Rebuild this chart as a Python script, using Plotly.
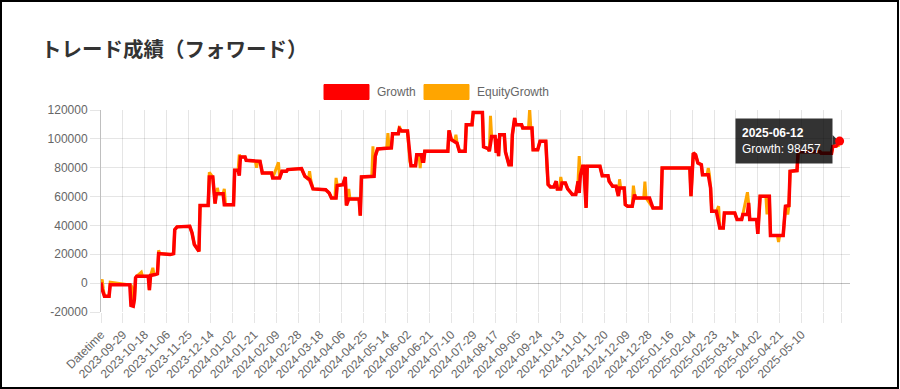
import plotly.graph_objects as go

# ---------------- data ----------------
growth_dates = [
    "2023-09-10", "2023-09-11", "2023-09-13", "2023-09-17", "2023-09-18", "2023-10-05", "2023-10-06",
    "2023-10-08", "2023-10-09", "2023-10-10", "2023-10-11", "2023-10-21", "2023-10-22", "2023-10-23",
    "2023-10-27", "2023-10-29", "2023-10-30", "2023-11-09", "2023-11-12", "2023-11-13", "2023-11-15",
    "2023-11-26", "2023-11-28", "2023-11-30", "2023-12-04", "2023-12-05", "2023-12-12", "2023-12-13",
    "2023-12-16", "2023-12-18", "2023-12-19", "2023-12-25", "2023-12-26", "2024-01-03", "2024-01-04",
    "2024-01-07", "2024-01-08", "2024-01-09", "2024-01-13", "2024-01-14", "2024-01-26", "2024-01-28",
    "2024-02-05", "2024-02-06", "2024-02-12", "2024-02-14", "2024-02-18", "2024-02-19", "2024-03-02",
    "2024-03-05", "2024-03-09", "2024-03-12", "2024-03-23", "2024-03-26", "2024-03-28", "2024-04-01",
    "2024-04-02", "2024-04-07", "2024-04-09", "2024-04-10", "2024-04-12", "2024-04-21", "2024-04-22",
    "2024-04-23", "2024-05-04", "2024-05-05", "2024-05-07", "2024-05-19", "2024-05-20", "2024-05-25",
    "2024-05-26", "2024-05-28", "2024-06-02", "2024-06-04", "2024-06-05", "2024-06-09", "2024-06-10",
    "2024-06-14", "2024-06-15", "2024-06-16", "2024-06-17", "2024-07-07", "2024-07-08", "2024-07-10",
    "2024-07-13", "2024-07-15", "2024-07-17", "2024-07-22", "2024-07-23", "2024-07-28", "2024-07-29",
    "2024-08-06", "2024-08-07", "2024-08-11", "2024-08-12", "2024-08-14", "2024-08-17", "2024-08-18",
    "2024-08-19", "2024-08-20", "2024-08-21", "2024-08-25", "2024-08-26", "2024-08-29", "2024-08-31",
    "2024-09-01", "2024-09-03", "2024-09-04", "2024-09-09", "2024-09-10", "2024-09-18", "2024-09-19",
    "2024-09-23", "2024-09-25", "2024-09-30", "2024-10-01", "2024-10-02", "2024-10-04", "2024-10-07",
    "2024-10-09", "2024-10-10", "2024-10-13", "2024-10-14", "2024-10-17", "2024-10-19", "2024-10-22",
    "2024-10-23", "2024-10-26", "2024-10-28", "2024-10-29", "2024-10-30", "2024-11-01", "2024-11-02",
    "2024-11-04", "2024-11-05", "2024-11-16", "2024-11-18", "2024-11-23", "2024-11-24", "2024-11-27",
    "2024-11-30", "2024-12-02", "2024-12-03", "2024-12-07", "2024-12-08", "2024-12-10", "2024-12-14",
    "2024-12-16", "2024-12-17", "2024-12-29", "2025-01-01", "2025-01-08", "2025-01-09", "2025-02-02",
    "2025-02-03", "2025-02-05", "2025-02-07", "2025-02-09", "2025-02-12", "2025-02-13", "2025-02-18",
    "2025-02-20", "2025-02-21", "2025-02-25", "2025-02-28", "2025-03-03", "2025-03-04", "2025-03-13",
    "2025-03-15", "2025-03-19", "2025-03-20", "2025-03-24", "2025-03-25", "2025-03-26", "2025-04-01",
    "2025-04-02", "2025-04-04", "2025-04-12", "2025-04-13", "2025-04-24", "2025-04-26", "2025-04-29",
    "2025-04-30", "2025-05-06", "2025-05-07", "2025-05-26", "2025-05-27", "2025-06-05", "2025-06-06",
    "2025-06-09", "2025-06-12",
]
growth_values = [
    500, -4400, -9000, -9000, -1200, -1200, -15500,
    -16000, -11000, 3700, 4800, 4800, -4800, 5300,
    6000, 6500, 20500, 19800, 20500, 37000, 39000,
    39400, 34800, 26800, 22000, 53800, 53800, 73600,
    73600, 55100, 62000, 62000, 54400, 54400, 78200,
    78200, 74500, 87400, 87400, 85100, 84400, 76400,
    76400, 72900, 72900, 77500, 77500, 78700, 79400,
    74000, 71700, 65300, 64800, 62500, 59000, 59000,
    67600, 68300, 73600, 53800, 58400, 58400, 46800,
    73600, 74000, 87900, 93000, 93700, 103600, 103600,
    107000, 105500, 105500, 84400, 81400, 81400, 89000,
    89000, 84400, 84400, 91400, 91400, 105900, 99400,
    98300, 97000, 91400, 91400, 109800, 109800, 118300,
    118300, 94500, 93300, 91500, 101700, 101700, 90200,
    100000, 88000, 102900, 102900, 91000, 82100, 82100,
    102900, 114400, 109800, 109800, 107500, 107500, 92500,
    92500, 98300, 98300, 81000, 68300, 66700, 66700,
    70600, 65300, 65300, 69400, 69400, 65300, 62500,
    61400, 61400, 70600, 62500, 74800, 81000, 81000,
    52100, 81000, 81000, 74500, 74500, 70600, 67100,
    67100, 60400, 66000, 66000, 54400, 53300, 53300,
    61400, 59000, 59000, 52100, 52100, 79800, 79800,
    60200, 90200, 89000, 83300, 82100, 75200, 75200,
    66000, 49800, 49800, 38300, 38300, 48700, 48700,
    44100, 44100, 47600, 47600, 55600, 44100, 44100,
    34200, 60200, 60200, 33000, 33000, 53300, 53800,
    77500, 78000, 91000, 91000, 90000, 90000, 94700,
    95000, 98457,
]

equity_dates = [
    "2023-09-10", "2023-09-11", "2023-09-12", "2023-09-13", "2023-09-17", "2023-09-18", "2023-10-05",
    "2023-10-06", "2023-10-07", "2023-10-08", "2023-10-09", "2023-10-10", "2023-10-11", "2023-10-15",
    "2023-10-16", "2023-10-21", "2023-10-22", "2023-10-23", "2023-10-25", "2023-10-26", "2023-10-27",
    "2023-10-29", "2023-10-30", "2023-10-31", "2023-11-09", "2023-11-12", "2023-11-13", "2023-11-15",
    "2023-11-26", "2023-11-28", "2023-11-30", "2023-12-04", "2023-12-05", "2023-12-12", "2023-12-13",
    "2023-12-16", "2023-12-18", "2023-12-19", "2023-12-20", "2023-12-21", "2023-12-25", "2023-12-26",
    "2023-12-27", "2024-01-03", "2024-01-04", "2024-01-07", "2024-01-08", "2024-01-09", "2024-01-13",
    "2024-01-14", "2024-01-22", "2024-01-23", "2024-01-24", "2024-01-26", "2024-01-28", "2024-02-05",
    "2024-02-06", "2024-02-11", "2024-02-12", "2024-02-14", "2024-02-18", "2024-02-19", "2024-03-02",
    "2024-03-05", "2024-03-08", "2024-03-09", "2024-03-10", "2024-03-12", "2024-03-23", "2024-03-26",
    "2024-03-28", "2024-03-31", "2024-04-01", "2024-04-02", "2024-04-07", "2024-04-09", "2024-04-10",
    "2024-04-12", "2024-04-13", "2024-04-21", "2024-04-22", "2024-04-23", "2024-05-02", "2024-05-03",
    "2024-05-04", "2024-05-05", "2024-05-07", "2024-05-15", "2024-05-16", "2024-05-17", "2024-05-19",
    "2024-05-20", "2024-05-25", "2024-05-26", "2024-05-27", "2024-06-02", "2024-06-04", "2024-06-05",
    "2024-06-09", "2024-06-10", "2024-06-12", "2024-06-13", "2024-06-14", "2024-06-15", "2024-06-16",
    "2024-06-17", "2024-07-07", "2024-07-08", "2024-07-10", "2024-07-13", "2024-07-14", "2024-07-15",
    "2024-07-17", "2024-07-22", "2024-07-23", "2024-07-28", "2024-07-29", "2024-08-06", "2024-08-07",
    "2024-08-11", "2024-08-12", "2024-08-13", "2024-08-14", "2024-08-17", "2024-08-18", "2024-08-19",
    "2024-08-20", "2024-08-21", "2024-08-25", "2024-08-26", "2024-08-27", "2024-08-29", "2024-08-31",
    "2024-09-01", "2024-09-03", "2024-09-04", "2024-09-09", "2024-09-10", "2024-09-15", "2024-09-16",
    "2024-09-17", "2024-09-18", "2024-09-19", "2024-09-23", "2024-09-25", "2024-09-30", "2024-10-01",
    "2024-10-02", "2024-10-04", "2024-10-07", "2024-10-09", "2024-10-10", "2024-10-12", "2024-10-13",
    "2024-10-14", "2024-10-17", "2024-10-19", "2024-10-22", "2024-10-23", "2024-10-26", "2024-10-28",
    "2024-10-29", "2024-10-30", "2024-11-01", "2024-11-02", "2024-11-04", "2024-11-05", "2024-11-16",
    "2024-11-18", "2024-11-23", "2024-11-24", "2024-11-27", "2024-11-30", "2024-12-02", "2024-12-03",
    "2024-12-04", "2024-12-07", "2024-12-08", "2024-12-10", "2024-12-14", "2024-12-15", "2024-12-16",
    "2024-12-17", "2024-12-24", "2024-12-25", "2024-12-26", "2024-12-29", "2025-01-01", "2025-01-08",
    "2025-01-09", "2025-02-02", "2025-02-03", "2025-02-05", "2025-02-07", "2025-02-09", "2025-02-12",
    "2025-02-13", "2025-02-17", "2025-02-18", "2025-02-19", "2025-02-20", "2025-02-21", "2025-02-25",
    "2025-02-27", "2025-02-28", "2025-03-03", "2025-03-04", "2025-03-13", "2025-03-15", "2025-03-19",
    "2025-03-20", "2025-03-24", "2025-03-25", "2025-03-26", "2025-04-01", "2025-04-02", "2025-04-04",
    "2025-04-09", "2025-04-10", "2025-04-11", "2025-04-12", "2025-04-13", "2025-04-19", "2025-04-20",
    "2025-04-21", "2025-04-24", "2025-04-26", "2025-04-28", "2025-04-29", "2025-04-30", "2025-05-06",
    "2025-05-07", "2025-05-26", "2025-05-27", "2025-06-05", "2025-06-06", "2025-06-09", "2025-06-12",
]
equity_values = [
    500, 2500, -4000, -9000, -9000, 700, -1200,
    -1500, -3000, -16000, -11000, 3700, 4800, 7600,
    4800, 4800, -4800, 5300, 10600, 6000, 6000,
    6500, 22800, 20500, 19800, 20500, 37000, 39000,
    39400, 34800, 26800, 22000, 53800, 53800, 76800,
    73600, 55100, 62000, 66000, 62000, 62000, 65300,
    54400, 54400, 78200, 78200, 89000, 87400, 87400,
    85100, 84400, 80000, 84400, 84400, 76400, 76400,
    72900, 83700, 72900, 77500, 77500, 78700, 79400,
    74000, 71700, 77500, 71700, 65300, 64800, 62500,
    59000, 59000, 72900, 67600, 68300, 73600, 53800,
    65300, 58400, 58400, 46800, 73600, 74000, 94800,
    74000, 87900, 93000, 93700, 104000, 93700, 93700,
    103600, 103600, 108900, 105500, 105500, 84400, 81400,
    81400, 89000, 89000, 79800, 89000, 84400, 84400,
    91400, 91400, 105900, 99400, 98300, 102900, 97000,
    91400, 91400, 109800, 109800, 118300, 118300, 94500,
    93300, 91500, 116000, 101700, 101700, 90200, 100000,
    88000, 102900, 102900, 91000, 88000, 82100, 82100,
    102900, 114400, 109800, 109800, 107500, 107500, 120700,
    107500, 107500, 92500, 92500, 98300, 98300, 81000,
    68300, 66700, 66700, 70600, 65300, 65300, 73600,
    69400, 69400, 65300, 62500, 61400, 61400, 70600,
    88100, 74800, 81000, 81000, 52100, 81000, 81000,
    74500, 74500, 70600, 67100, 67100, 60400, 72000,
    66000, 66000, 54400, 53300, 53300, 67600, 61400,
    59000, 59000, 70400, 59000, 55500, 52100, 52100,
    79800, 79800, 60200, 90200, 89000, 83300, 82100,
    75200, 75200, 79800, 75200, 66000, 49800, 49800,
    53300, 38300, 38300, 48700, 48700, 44100, 44100,
    47600, 63000, 55600, 44100, 44100, 34200, 60200,
    60200, 47600, 60200, 60200, 33000, 33000, 28600,
    33000, 33000, 53300, 47600, 53800, 77500, 78000,
    91000, 91000, 90000, 90000, 94700, 95000, 95500,
]

tick_dates = [
    "2023-09-10", "2023-09-29", "2023-10-18", "2023-11-06", "2023-11-25", "2023-12-14",
    "2024-01-02", "2024-01-21", "2024-02-09", "2024-02-28", "2024-03-18", "2024-04-06",
    "2024-04-25", "2024-05-14", "2024-06-02", "2024-06-21", "2024-07-10", "2024-07-29",
    "2024-08-17", "2024-09-05", "2024-09-24", "2024-10-13", "2024-11-01", "2024-11-20",
    "2024-12-09", "2024-12-28", "2025-01-16", "2025-02-04", "2025-02-23", "2025-03-14",
    "2025-04-02", "2025-04-21", "2025-05-10", "2025-05-29", "2025-06-14",
]
tick_labels = [
    "Datetime", "2023-09-29", "2023-10-18", "2023-11-06", "2023-11-25", "2023-12-14",
    "2024-01-02", "2024-01-21", "2024-02-09", "2024-02-28", "2024-03-18", "2024-04-06",
    "2024-04-25", "2024-05-14", "2024-06-02", "2024-06-21", "2024-07-10", "2024-07-29",
    "2024-08-17", "2024-09-05", "2024-09-24", "2024-10-13", "2024-11-01", "2024-11-20",
    "2024-12-09", "2024-12-28", "2025-01-16", "2025-02-04", "2025-02-23", "2025-03-14",
    "2025-04-02", "2025-04-21", "2025-05-10", "", "",
]
y_ticks = [-20000, 0, 20000, 40000, 60000, 80000, 100000, 120000]
y_labels = [str(v) for v in y_ticks]

title_text = "トレード成績（フォワード）"
series_names = ["Growth", "EquityGrowth"]
series_colors = ["#FF0000", "#FFA500"]

# ---------------- layout helpers ----------------
FW, FH = 900, 389
L, R, T, B = 101, 50, 110, 77
PW, PH = FW - L - R, FH - T - B


def px(x):
    return (x - L) / PW


def py(y):
    return (FH - B - y) / PH


GRID = "rgba(0,0,0,0.1)"
AXIS = "rgba(0,0,0,0.25)"
TXT = "#666666"
FONT = "Liberation Sans, Arial, sans-serif"

fig = go.Figure()
fig.add_trace(go.Scatter(
    x=equity_dates, y=equity_values, mode="lines", name=series_names[1],
    line=dict(color=series_colors[1], width=3), hoverinfo="skip", showlegend=False))
fig.add_trace(go.Scatter(
    x=growth_dates, y=growth_values, mode="lines", name=series_names[0],
    line=dict(color=series_colors[0], width=3.5), hoverinfo="skip", showlegend=False))
fig.add_trace(go.Scatter(
    x=[growth_dates[-1]], y=[growth_values[-1]], mode="markers",
    marker=dict(color=series_colors[0], size=9), hoverinfo="skip", showlegend=False))

shapes = []
annotations = []

# manual legend (Chart.js-style boxes)
legend_x = [(324, 375), (424, 475)]
for (bx, tx), name, col in zip(legend_x, series_names, series_colors):
    shapes.append(dict(type="rect", xref="paper", yref="paper",
                       x0=px(bx), x1=px(bx + 45), y0=py(99.5), y1=py(84.5),
                       fillcolor=col, line=dict(color=col, width=1), layer="above"))
    annotations.append(dict(xref="paper", yref="paper", x=px(tx), y=py(92),
                            xanchor="left", yanchor="middle", showarrow=False,
                            text=name, font=dict(family=FONT, size=12, color=TXT)))

# title
annotations.append(dict(xref="paper", yref="paper", x=px(39), y=py(48),
                        xanchor="left", yanchor="middle", showarrow=False,
                        text="<b>" + title_text + "</b>",
                        font=dict(family="Noto Sans CJK JP", size=20.5, color="#333333")))

# tooltip
annotations.append(dict(
    x=growth_dates[-1], y=growth_values[-1], xref="x", yref="y",
    text="<b>" + growth_dates[-1] + "</b><br>" + series_names[0] + ": " + str(growth_values[-1]),
    showarrow=False, xanchor="right", yanchor="middle", xshift=-7,
    bgcolor="rgba(0,0,0,0.8)", borderpad=6, width=84, height=32, align="left",
    font=dict(family=FONT, size=12, color="white")))
shapes.append(dict(type="path", xref="x", yref="y", xsizemode="pixel", ysizemode="pixel",
                   xanchor=growth_dates[-1], yanchor=growth_values[-1],
                   path="M -7,6 L -1,0 L -7,-6 Z", fillcolor="rgba(0,0,0,0.8)",
                   line=dict(width=0), layer="between"))

# outer frame
shapes.append(dict(type="rect", xref="paper", yref="paper",
                   x0=px(1), x1=px(898), y0=py(388), y1=py(1),
                   line=dict(color="black", width=2), fillcolor="rgba(0,0,0,0)", layer="above"))

fig.update_layout(
    width=FW, height=FH, autosize=False,
    margin=dict(l=L, r=R, t=T, b=B, pad=0, autoexpand=False),
    paper_bgcolor="white", plot_bgcolor="white",
    showlegend=False,
    shapes=shapes, annotations=annotations,
    font=dict(family=FONT, size=12, color=TXT),
    xaxis=dict(type="date", range=["2023-09-10", "2025-06-21"], automargin=False,
               tickmode="array", tickvals=tick_dates, ticktext=tick_labels,
               tickangle=-45, showgrid=True, gridcolor=GRID, gridwidth=1,
               ticks="outside", ticklen=10, tickcolor=GRID, tickwidth=1,
               tickfont=dict(family=FONT, size=12, color=TXT),
               showline=False, zeroline=False, fixedrange=True),
    yaxis=dict(range=[-20000, 120000], tickmode="array", tickvals=y_ticks, ticktext=y_labels,
               automargin=False,
               showgrid=True, gridcolor=GRID, gridwidth=1,
               ticks="outside", ticklen=10, tickcolor=GRID, tickwidth=1,
               tickfont=dict(family=FONT, size=12, color=TXT),
               showline=True, linecolor=AXIS, linewidth=1,
               zeroline=True, zerolinecolor=AXIS, zerolinewidth=1, fixedrange=True),
)

fig.write_html(
    "out.html",
    config={"displayModeBar": False},
    post_script="document.body.style.margin='0';document.body.style.overflow='hidden';",
)
